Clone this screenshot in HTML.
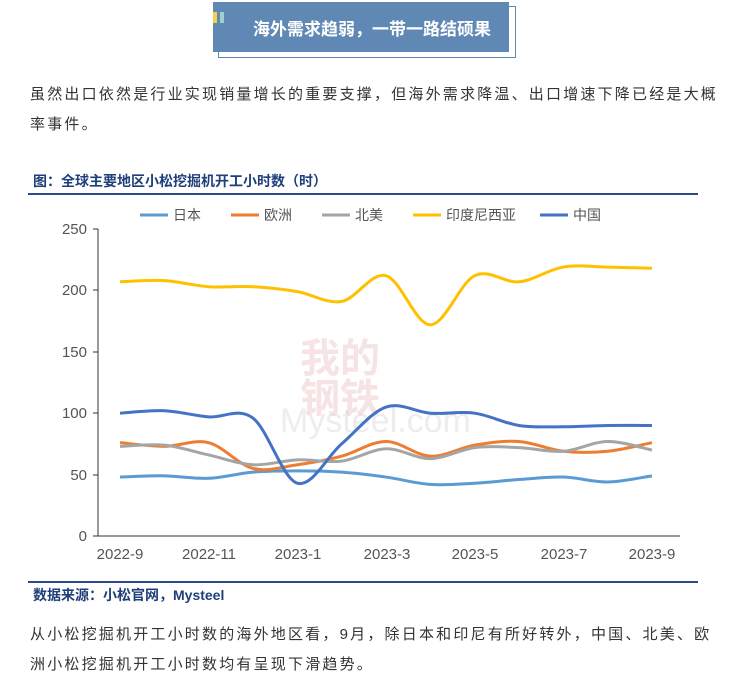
<!DOCTYPE html><html><head><meta charset="utf-8"><style>
body{margin:0;background:#fff;width:755px;height:684px;overflow:hidden;font-family:"Liberation Sans","Noto Sans CJK SC",sans-serif;position:relative}
.t{position:absolute;font-size:15px;color:#333;line-height:30px;letter-spacing:2.2px}
</style></head><body>
<div style="position:absolute;left:218px;top:6px;width:296px;height:50px;border:1px solid #5e86b0"></div>
<div style="position:absolute;left:213px;top:2px;width:296px;height:50px;background:#5f88b4"></div>
<div style="position:absolute;left:213px;top:12px;width:4px;height:11px;background:#f2d343"></div>
<div style="position:absolute;left:220px;top:12px;width:4px;height:11px;background:#9fd0cf"></div>
<div style="position:absolute;left:253px;top:15px;font-size:17px;font-weight:bold;color:#fff">海外需求趋弱，一带一路结硕果</div>
<div class="t" style="left:30px;top:80px;width:694px">虽然出口依然是行业实现销量增长的重要支撑，但海外需求降温、出口增速下降已经是大概率事件。</div>
<div style="position:absolute;left:33px;top:171px;font-size:14px;font-weight:bold;color:#1f3f7a">图：全球主要地区小松挖掘机开工小时数（时）</div>
<div style="position:absolute;left:28px;top:193px;width:670px;height:2px;background:#2a4a8a"></div>
<div style="position:absolute;left:28px;top:581px;width:670px;height:2px;background:#2a4a8a"></div>
<div style="position:absolute;left:33px;top:585px;font-size:14px;font-weight:bold;color:#1f3f7a">数据来源：小松官网，Mysteel</div>
<div class="t" style="left:30px;top:620px;width:694px">从小松挖掘机开工小时数的海外地区看，9月，除日本和印尼有所好转外，中国、北美、欧洲小松挖掘机开工小时数均有呈现下滑趋势。</div>
<svg width="755" height="684" style="position:absolute;left:0;top:0" font-family="Liberation Sans,Noto Sans CJK SC,sans-serif">
<text x="300" y="372" font-size="40" fill="#e8b0b0" opacity="0.35" font-weight="bold">我的</text>
<text x="300" y="412" font-size="40" fill="#e8b0b0" opacity="0.35" font-weight="bold">钢铁</text>
<text x="280" y="432" font-size="34" fill="#ccc" opacity="0.35">Mysteel.com</text>
<g stroke="#333" stroke-width="1" fill="none"><path d="M98 229V536M93 229H98M93 290H98M93 352H98M93 413H98M93 475H98M93 536H98M98 536H680"/></g>
<g font-size="15" fill="#555" text-anchor="end"><text x="87" y="234">250</text><text x="87" y="295">200</text><text x="87" y="357">150</text><text x="87" y="418">100</text><text x="87" y="480">50</text><text x="87" y="541">0</text></g>
<g font-size="15" fill="#555" text-anchor="middle"><text x="120" y="559">2022-9</text><text x="209" y="559">2022-11</text><text x="298" y="559">2023-1</text><text x="387" y="559">2023-3</text><text x="475" y="559">2023-5</text><text x="564" y="559">2023-7</text><text x="652" y="559">2023-9</text></g>
<g font-size="14" fill="#555">
<line x1="140" y1="215" x2="168" y2="215" stroke="#5b9bd5" stroke-width="3"/><text x="173" y="220">日本</text>
<line x1="231" y1="215" x2="259" y2="215" stroke="#ed7d31" stroke-width="3"/><text x="264" y="220">欧洲</text>
<line x1="322" y1="215" x2="350" y2="215" stroke="#a5a5a5" stroke-width="3"/><text x="355" y="220">北美</text>
<line x1="413" y1="215" x2="441" y2="215" stroke="#ffc000" stroke-width="3"/><text x="446" y="220">印度尼西亚</text>
<line x1="540" y1="215" x2="568" y2="215" stroke="#4472c4" stroke-width="3"/><text x="573" y="220">中国</text>
</g>
<g id="L" fill="none" stroke-width="3"></g>
</svg>
<script>
var D=[["#5b9bd5",[48,49,47,52,53,52,48,42,43,46,48,44,49]],
["#ed7d31",[76,73,76,55,58,65,77,65,74,77,69,69,76]],
["#a5a5a5",[73,74,66,58,62,61,71,63,72,72,69,77,70]],
["#ffc000",[207,208,203,203,199,191,212,172,212,207,219,219,218]],
["#4472c4",[100,102,97,96,43,75,105,100,100,90,89,90,90]]];
var g=document.getElementById('L');
D.forEach(function(s){var p=s[1].map(function(v,i){return[120+i*44.33,536-v*1.228]});
var d='M'+p[0];for(var i=0;i<p.length-1;i++){var a=p[Math.max(i-1,0)],b=p[i],c=p[i+1],e=p[Math.min(i+2,p.length-1)];
d+='C'+(b[0]+(c[0]-a[0])/6)+','+(b[1]+(c[1]-a[1])/6)+' '+(c[0]-(e[0]-b[0])/6)+','+(c[1]-(e[1]-b[1])/6)+' '+c[0]+','+c[1];}
var el=document.createElementNS('http://www.w3.org/2000/svg','path');el.setAttribute('d',d);el.setAttribute('stroke',s[0]);g.appendChild(el);});
</script>
</body></html>
